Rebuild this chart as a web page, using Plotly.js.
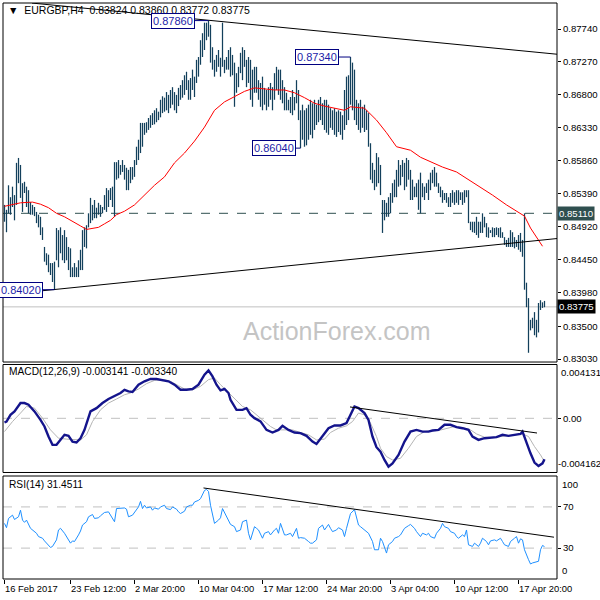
<!DOCTYPE html>
<html><head><meta charset="utf-8">
<script src="https://cdn.plot.ly/plotly-3.0.1.min.js"></script>
<style>html,body{margin:0;padding:0;background:#fff}#c{width:600px;height:600px}</style>
</head><body><div id="c"></div>
<script>
// ---- price bars (H4), highs and lows ----
const barHigh = [
.8523,.8516,.8551,.8534,.8549,.8537,.8583,.8590,.8580,.8554,
.8556,.8549,.8544,.8527,.8523,.8520,.8513,.8509,.8506,.8491,
.8463,.8454,.8452,.8440,.8440,.8442,.8490,.8487,.8491,.8480,
.8487,.8477,.8463,.8461,.8434,.8440,.8434,.8444,.8459,.8487,
.8491,.8494,.8511,.8533,.8523,.8530,.8519,.8526,.8523,.8520,
.8537,.8547,.8544,.8547,.8549,.8584,.8584,.8587,.8580,.8587,
.8580,.8576,.8573,.8577,.8577,.8587,.8606,.8616,.8640,.8640,
.8640,.8641,.8647,.8651,.8654,.8658,.8661,.8656,.8673,.8678,
.8676,.8684,.8680,.8687,.8691,.8684,.8680,.8690,.8694,.8701,
.8708,.8713,.8701,.8704,.8716,.8706,.8730,.8734,.8758,.8768,
.8783,.8783,.8786,.8780,.8748,.8730,.8737,.8744,.8733,.8783,
.8730,.8734,.8744,.8748,.8737,.8726,.8711,.8720,.8740,.8748,
.8744,.8730,.8734,.8730,.8716,.8720,.8720,.8701,.8697,.8706,
.8690,.8687,.8691,.8697,.8691,.8711,.8720,.8716,.8716,.8701,
.8691,.8683,.8673,.8677,.8687,.8677,.8701,.8687,.8658,.8666,
.8658,.8661,.8666,.8673,.8668,.8673,.8666,.8673,.8677,.8668,
.8673,.8673,.8666,.8661,.8658,.8661,.8656,.8658,.8656,.8651,
.8687,.8706,.8708,.8734,.8726,.8716,.8673,.8668,.8673,.8663,
.8666,.8658,.8654,.8611,.8583,.8573,.8597,.8591,.8580,.8530,
.8530,.8526,.8534,.8540,.8554,.8559,.8573,.8587,.8580,.8587,
.8583,.8590,.8587,.8573,.8559,.8549,.8554,.8559,.8569,.8554,
.8549,.8554,.8559,.8569,.8573,.8577,.8569,.8554,.8549,.8544,
.8540,.8540,.8534,.8540,.8544,.8541,
.8544,.8544,.8541,.8541,.8544,.8544,.8544,.8499,.8499,.8499,
.8506,.8499,.8499,.8511,.8506,.8497,.8491,.8487,.8491,.8490,
.8491,.8490,.8491,.8484,.8477,.8473,.8476,.8487,.8484,.8477,
.8473,.8480,.8483,.8473,.8511,.8412,.8390,.8359,.8362,.8370,
.8359,.8383,.8387,.8384,.8386];
const barLow = [
.8499,.8484,.8511,.8509,.8520,.8501,.8523,.8554,.8533,.8513,
.8540,.8520,.8511,.8509,.8509,.8507,.8497,.8491,.8480,.8473,
.8442,.8437,.8427,.8423,.8413,.8402,.8444,.8434,.8454,.8444,
.8440,.8444,.8430,.8420,.8420,.8420,.8420,.8420,.8430,.8430,
.8463,.8461,.8491,.8497,.8501,.8504,.8504,.8509,.8506,.8511,
.8516,.8513,.8520,.8530,.8520,.8506,.8559,.8561,.8566,.8570,
.8559,.8544,.8544,.8554,.8559,.8563,.8580,.8587,.8597,.8606,
.8623,.8626,.8630,.8633,.8637,.8638,.8641,.8644,.8648,.8654,
.8656,.8658,.8654,.8661,.8666,.8658,.8654,.8664,.8673,.8676,
.8680,.8687,.8673,.8673,.8687,.8677,.8697,.8706,.8723,.8734,
.8744,.8758,.8763,.8726,.8716,.8706,.8713,.8720,.8706,.8720,
.8711,.8716,.8716,.8706,.8708,.8663,.8683,.8691,.8711,.8701,
.8720,.8691,.8697,.8673,.8663,.8683,.8683,.8673,.8663,.8658,
.8666,.8658,.8663,.8673,.8658,.8673,.8687,.8680,.8673,.8668,
.8658,.8658,.8658,.8654,.8651,.8658,.8668,.8644,.8604,.8616,
.8606,.8608,.8616,.8623,.8618,.8630,.8637,.8641,.8644,.8637,
.8630,.8626,.8623,.8633,.8630,.8623,.8620,.8627,.8623,.8616,
.8630,.8637,.8644,.8666,.8658,.8644,.8637,.8630,.8626,.8633,
.8627,.8630,.8606,.8559,.8554,.8544,.8549,.8554,.8537,.8483,
.8501,.8506,.8506,.8511,.8526,.8534,.8534,.8549,.8551,.8563,
.8544,.8549,.8559,.8530,.8530,.8534,.8534,.8516,.8511,.8534,
.8530,.8540,.8530,.8544,.8554,.8549,.8549,.8540,.8534,.8526,
.8530,.8526,.8520,.8520,.8526,.8523,
.8526,.8523,.8530,.8523,.8526,.8534,.8497,.8487,.8484,.8483,
.8480,.8476,.8483,.8483,.8491,.8477,.8476,.8483,.8477,.8477,
.8480,.8477,.8476,.8476,.8466,.8463,.8463,.8463,.8463,.8461,
.8463,.8459,.8456,.8449,.8402,.8377,.8312,.8344,.8347,.8337,
.8334,.8341,.8373,.8376,.8377];

// ---- moving average (red) ----
const maBars = [0,8,14,18,22,26,30,34,38,41,44,47,50,53,56,60,65,70,75,80,85,90,95,100,105,110,115,120,125,130,135,140,145,150,155,160,165,170,173,180,186,191,196,203,208,214,219,226,231,238,244,251,257,260,263,266,269];
const maVals = [.8521,.8526,.8527,.8524,.8519,.8511,.8506,.8500,.8493,.8488,.8489,.8491,.8496,.8501,.8509,.8514,.8523,.8537,.8551,.8563,.8583,.8597,.8614,.8634,.8658,.8670,.8677,.8685,.8690,.8688,.8687,.8687,.8683,.8676,.8668,.8664,.8661,.8658,.8663,.8661,.8644,.8626,.8606,.8601,.8591,.8583,.8577,.8570,.8561,.8549,.8537,.8523,.8513,.8507,.8490,.8476,.8464];

// ---- MACD(12,26,9) ----
const macdBars = [0,1,3,5,8,10,12,15,18,20, 22,24,26,28,30,32,34,36,38,40, 43,46,49,52,55,58,60,62,64,67, 70,73,76,79,82,85,88,91,94,97, 100,102,104,106,108,110,112,113,116,119, 121,123,125,128,131,134,137,139,142,145, 148,151,154,156,159,162,165,168,171,173, 175,177,180,182,184,186,188,190,192,194, 197,200,203,206,209,212,214,217,220,223, 226,229,232,234,237,240,243,246,249,252, 255,258,259,261,263,265,267,269,270];
const macdVals = [-0.00032,-0.00025,0.00027,0.00053,0.00117,0.00117,0.00104,0.00053,-0.00012,-0.00063,
-0.00140,-0.00204,-0.00204,-0.00166,-0.00127,-0.00135,-0.00179,-0.00186,-0.00153,-0.00089,
0.00053,0.00078,0.00117,0.00148,0.00168,0.00194,0.00219,0.00207,0.00202,0.00258,
0.00284,0.00302,0.00302,0.00291,0.00284,0.00258,0.00219,0.00219,0.00225,0.00258,
0.00335,0.00368,0.00322,0.00258,0.00214,0.00225,0.00194,0.00142,0.00065,0.00065,
0.00078,0.00027,0.00001,-0.00024,-0.00089,-0.00109,-0.00089,-0.00058,-0.00089,-0.00109,
-0.00114,-0.00135,-0.00179,-0.00197,-0.00140,-0.00076,-0.00055,-0.00055,-0.00037,0.00027,
0.00091,0.00078,0.00040,-0.00012,-0.00140,-0.00222,-0.00256,-0.00320,-0.00371,-0.00346,
-0.00281,-0.00179,-0.00102,-0.00089,-0.00102,-0.00102,-0.00094,-0.00089,-0.00050,-0.00050,
-0.00068,-0.00076,-0.00089,-0.00140,-0.00166,-0.00153,-0.00148,-0.00145,-0.00127,-0.00135,
-0.00127,-0.00120,-0.00102,-0.00191,-0.00269,-0.00340,-0.00366,-0.00346,-0.00314];
const signalBars = [0,4,8,11,15,19,23,27,31,35, 38,41,44,48,52,56,60,63,67,71, 75,79,83,87,90,94,98,102,105,108, 111,115,119,123,126,129,133,136,140,144, 148,152,156,160,163,167,171,174,177,180, 183,186,188,191,194,198,202,206,210,213, 217,221,225,229,233,236,240,244,248,252, 256,259,262,265,268,270];
const signalVals = [-0.00102,-0.00025,0.00040,0.00091,0.00078,0.00001,-0.00089,-0.00153,-0.00160,-0.00166,
-0.00166,-0.00127,-0.00025,0.00065,0.00117,0.00148,0.00181,0.00194,0.00225,0.00266,
0.00291,0.00297,0.00284,0.00250,0.00225,0.00219,0.00245,0.00297,0.00309,0.00258,
0.00214,0.00148,0.00091,0.00065,0.00027,-0.00012,-0.00063,-0.00089,-0.00089,-0.00089,
-0.00109,-0.00127,-0.00166,-0.00160,-0.00109,-0.00076,-0.00058,-0.00025,0.00040,0.00027,
-0.00037,-0.00140,-0.00230,-0.00294,-0.00320,-0.00307,-0.00230,-0.00140,-0.00102,-0.00096,
-0.00094,-0.00076,-0.00063,-0.00071,-0.00089,-0.00120,-0.00145,-0.00148,-0.00140,-0.00135,
-0.00127,-0.00120,-0.00140,-0.00217,-0.00281,-0.00334];

// ---- RSI(14) ----
const rsiBars = [0,1,2,4,5,7,8,9,10,11, 13,14,16,17,19,20,22,23,24,26, 27,28,30,31,33,34,35,37,38,39,
41,42,44,45,47,48,49,50,52,53, 55,56,58,60,61,62,64,65,67,68, 69,70,71,73,74,75,77,78,80,81,
83,84,86,87,88,90,91,93,94,95, 97,98,100,101,102,103,104,105,107,108, 109,111,112,113,115,116,118,119,121,122,
123,125,126,127,129,130,132,133,135,136, 137,138,140,141,143,144,146,147,148,150, 152,153,154,156,157,159,160,162,163,164,
166,167,169,170,171,172,173,175,176,177, 178,179,181,182,184,185,187,188,189,190, 191,192,194,195,197,198,200,202,203,205,
206,208,209,211,212,213,215,216,218,219, 220,222,223,225,226,227,229,230,231,232, 234,235,237,238,239,241,242,243,245,246,
248,249,250,252,253,255,256,257,258,259, 260,262,263,264,266,267,268,269,270];
const rsiVals = [54.0,49.8,58.8,62.0,57.8,60.4,66.8,57.2,55.0,57.2, 49.2,47.6,44.4,41.2,39.6,37.0,33.2,30.6,31.6,38.0, 47.6,49.2,44.4,41.2,34.8,37.0,36.4,42.8,46.6,52.4,
55.6,60.4,62.6,58.8,59.4,61.4,62.6,64.6,65.2,62.0, 55.6,68.4,69.0,69.0,67.8,60.4,62.0,64.6,70.0,75.4, 68.4,71.6,69.0,70.0,66.8,69.0,67.8,70.0,71.6,68.4,
67.4,70.0,67.8,65.2,63.6,65.8,70.0,71.6,71.6,74.8, 76.4,78.0,86.0,87.0,85.0,71.6,62.0,54.0,57.2,59.4, 68.4,60.4,55.6,53.0,50.8,46.0,47.6,55.6,57.2,44.4,
38.0,50.8,49.2,47.6,39.6,44.4,46.0,42.8,47.6,49.2, 44.4,54.0,42.8,42.8,44.4,41.2,49.2,39.6,40.2,39.6, 36.4,34.8,34.8,38.0,49.2,52.4,47.6,53.0,49.2,46.0,
47.6,49.8,47.6,41.2,49.2,55.6,63.6,67.4,60.4,52.4, 50.8,49.2,46.0,44.4,36.4,28.4,28.4,39.6,36.4,30.0, 25.2,33.2,36.4,39.6,41.2,42.8,49.2,51.8,53.0,49.2,
46.0,41.2,44.4,42.8,44.4,41.2,39.6,44.4,49.2,54.0, 50.8,49.2,46.0,44.4,41.2,39.6,42.8,41.2,47.6,33.2, 31.6,34.8,31.6,34.8,39.6,36.4,33.2,37.0,38.0,37.0,
39.6,36.4,33.2,31.6,36.4,39.6,41.2,34.8,39.0,38.0, 28.4,18.8,14.6,15.6,16.6,17.2,28.4,32.6,31.45];

// ---- trend lines, levels, labels ----
const upperTrendBars = [13.75, 276.25], upperTrendVals = [0.8811, 0.8738];
const lowerTrendBars = [19.25, 276.25], lowerTrendVals = [0.84006, 0.8475];
const macdTrendBars = [172.75, 266.25], macdTrendVals = [0.00087, -0.00113];
const rsiTrendBars = [99.5, 274.75], rsiTrendVals = [88.4, 40.6];
const resistLevel = 0.8511, lastPrice = 0.83775;
const markVals = [0.87860, 0.87340, 0.86040, 0.84020];
const markBars = [102, 173, 148, 25];
const markBoxEnd = [95.25, 167.25, 145.75, 19.25];

const priceTicks = [0.87740,0.87270,0.86800,0.86330,0.85860,0.85390,0.84920,0.84450,0.83980,0.83500,0.83030];
const timeTickBars = [0,33,65,97,129,161,193,225,257];
const timeTickLabels = ['16 Feb 2017','23 Feb 12:00','2 Mar 20:00','10 Mar 04:00','17 Mar 12:00','24 Mar 20:00','3 Apr 04:00','10 Apr 12:00','17 Apr 20:00'];
const header = '▼  EURGBP,H4  0.83824 0.83860 0.83772 0.83775';
const macdHeader = 'MACD(12,26,9) -0.003141 -0.003340';
const rsiHeader = 'RSI(14) 31.4511';
const macdMax = 0.004131, macdMin = -0.004162;

// ---- build ----
const bx = [], by = [];
for (let i = 0; i < barHigh.length; i++) { bx.push(i, i, null); by.push(barHigh[i], barLow[i], null); }

const traces = [
  {x: bx, y: by, type: 'scatter', mode: 'lines', line: {color: '#13405c', width: 1.25}, hoverinfo: 'skip'},
  {x: maBars, y: maVals, type: 'scatter', mode: 'lines', line: {color: '#ff0000', width: 1}},
  {x: upperTrendBars, y: upperTrendVals, type: 'scatter', mode: 'lines', line: {color: '#000', width: 1}},
  {x: lowerTrendBars, y: lowerTrendVals, type: 'scatter', mode: 'lines', line: {color: '#000', width: 1}},
  {x: signalBars, y: signalVals, xaxis: 'x', yaxis: 'y2', type: 'scatter', mode: 'lines', line: {color: '#b4b4b4', width: 1}},
  {x: macdBars, y: macdVals, xaxis: 'x', yaxis: 'y2', type: 'scatter', mode: 'lines', line: {color: '#14148c', width: 2.4}},
  {x: macdTrendBars, y: macdTrendVals, xaxis: 'x', yaxis: 'y2', type: 'scatter', mode: 'lines', line: {color: '#000', width: 1}},
  {x: rsiBars, y: rsiVals, xaxis: 'x', yaxis: 'y3', type: 'scatter', mode: 'lines', line: {color: '#1e90ff', width: 1}},
  {x: rsiTrendBars, y: rsiTrendVals, xaxis: 'x', yaxis: 'y3', type: 'scatter', mode: 'lines', line: {color: '#000', width: 1}}
];
for (let k = 0; k < markVals.length; k++) {
  traces.push({x: [markBoxEnd[k], markBars[k]], y: [markVals[k], markVals[k]], type: 'scatter', mode: 'lines', line: {color: '#000080', width: 1}});
}

const FONT = 'Liberation Sans, Arial, sans-serif';
const AX = 9.6;
const shapes = [
  {type: 'line', xref: 'paper', x0: 0, x1: 1, yref: 'y', y0: resistLevel, y1: resistLevel, line: {color: '#2f4f4f', width: 1, dash: 'dash'}, layer: 'below'},
  {type: 'line', xref: 'paper', x0: 0, x1: 1, yref: 'y', y0: lastPrice, y1: lastPrice, line: {color: '#c0c0c0', width: 1}, layer: 'below'},
  {type: 'line', xref: 'paper', x0: 0, x1: 1, yref: 'y2', y0: 0, y1: 0, line: {color: '#c0c0c0', width: 1, dash: 'dash'}, layer: 'below'},
  {type: 'line', xref: 'paper', x0: 0, x1: 1, yref: 'y3', y0: 70, y1: 70, line: {color: '#c0c0c0', width: 1, dash: 'dash'}, layer: 'below'},
  {type: 'line', xref: 'paper', x0: 0, x1: 1, yref: 'y3', y0: 30, y1: 30, line: {color: '#c0c0c0', width: 1, dash: 'dash'}, layer: 'below'},
  {type: 'rect', xref: 'paper', x0: 0, x1: 1, yref: 'y domain', y0: 0, y1: 1, line: {color: '#000', width: 1}},
  {type: 'rect', xref: 'paper', x0: 0, x1: 1, yref: 'y2 domain', y0: 0, y1: 1, line: {color: '#000', width: 1}},
  {type: 'rect', xref: 'paper', x0: 0, x1: 1, yref: 'y3 domain', y0: 0, y1: 1, line: {color: '#000', width: 1}}
];

const annotations = [
  {xref: 'paper', yref: 'paper', x: 0.005, y: 0.988, xanchor: 'left', yanchor: 'middle', text: header, showarrow: false, font: {family: FONT, size: 10.5, color: '#000'}},
  {xref: 'paper', yref: 'paper', x: 0.007, y: 0.3594, xanchor: 'left', yanchor: 'middle', text: macdHeader, showarrow: false, font: {family: FONT, size: 10.2, color: '#000'}},
  {xref: 'paper', yref: 'paper', x: 0.007, y: 0.1649, xanchor: 'left', yanchor: 'middle', text: rsiHeader, showarrow: false, font: {family: FONT, size: 10.2, color: '#000'}},
  {xref: 'paper', yref: 'paper', x: 0.603, y: 0.4306, xanchor: 'center', yanchor: 'middle', text: 'ActionForex.com', showarrow: false, font: {family: FONT, size: 25, color: '#c4c4c4'}},
  {xref: 'paper', yref: 'y', x: 1, y: resistLevel, xanchor: 'left', yanchor: 'middle', xshift: 0, text: resistLevel.toFixed(5), showarrow: false, bgcolor: '#2f4f4f', borderpad: 1, font: {family: FONT, size: AX, color: '#fff'}},
  {xref: 'paper', yref: 'y', x: 1, y: lastPrice, xanchor: 'left', yanchor: 'middle', xshift: 0, text: lastPrice.toFixed(5), showarrow: false, bgcolor: '#000', borderpad: 1, font: {family: FONT, size: AX, color: '#fff'}},
  {xref: 'paper', yref: 'y2', x: 1, y: macdMax, xanchor: 'left', yanchor: 'top', xshift: 2, yshift: -1, text: macdMax.toFixed(6), showarrow: false, font: {family: FONT, size: AX, color: '#000'}},
  {xref: 'paper', yref: 'y2', x: 1, y: macdMin, xanchor: 'left', yanchor: 'bottom', xshift: -1, yshift: 1, text: macdMin.toFixed(6), showarrow: false, font: {family: FONT, size: AX, color: '#000'}},
  {xref: 'paper', yref: 'y3', x: 1, y: 100, xanchor: 'left', yanchor: 'top', xshift: 3, yshift: -1, text: '100', showarrow: false, font: {family: FONT, size: AX, color: '#000'}},
  {xref: 'paper', yref: 'y3', x: 1, y: 0, xanchor: 'left', yanchor: 'bottom', xshift: 3, yshift: 1, text: '0', showarrow: false, font: {family: FONT, size: AX, color: '#000'}}
];
for (let k = 0; k < markVals.length; k++) {
  annotations.push({xref: 'x', yref: 'y', x: markBoxEnd[k], y: markVals[k], xanchor: 'right', yanchor: 'middle', text: markVals[k].toFixed(5), showarrow: false, bgcolor: '#fff', bordercolor: '#000080', borderwidth: 1, borderpad: 1, font: {family: FONT, size: 11, color: '#1c1ca8'}});
}
for (let k = 0; k < timeTickBars.length; k++) {
  annotations.push({xref: 'x', yref: 'paper', x: timeTickBars[k], y: 0, xanchor: 'left', yanchor: 'top', xshift: -2, yshift: -2, text: timeTickLabels[k], showarrow: false, font: {family: FONT, size: 9.4, color: '#000'}});
}

const axisCommon = {showgrid: false, zeroline: false, showline: false, ticks: 'outside', ticklen: 3, tickcolor: '#000', tickfont: {family: FONT, size: AX, color: '#000'}, fixedrange: true};
const layout = {
  width: 600, height: 600,
  margin: {l: 3, r: 43, t: 3, b: 21},
  paper_bgcolor: '#fff', plot_bgcolor: '#fff',
  showlegend: false,
  font: {family: FONT, size: 10.5, color: '#000'},
  xaxis: Object.assign({}, axisCommon, {range: [-0.75, 276.25], anchor: 'y3', tickvals: timeTickBars, showticklabels: false, ticklen: 4}),
  yaxis: Object.assign({}, axisCommon, {domain: [0.3767, 1], range: [0.82988, 0.88111], side: 'right', tickvals: priceTicks, ticktext: priceTicks.map(v => v.toFixed(5))}),
  yaxis2: Object.assign({}, axisCommon, {domain: [0.1849, 0.3724], range: [macdMin, macdMax], side: 'right', tickvals: [0], ticktext: ['0.00']}),
  yaxis3: Object.assign({}, axisCommon, {domain: [0, 0.1788], range: [0, 100], side: 'right', tickvals: [70, 30], ticktext: ['70', '30']}),
  shapes: shapes,
  annotations: annotations
};
Plotly.newPlot('c', traces, layout, {displayModeBar: false, staticPlot: true});
</script>
</body></html>
